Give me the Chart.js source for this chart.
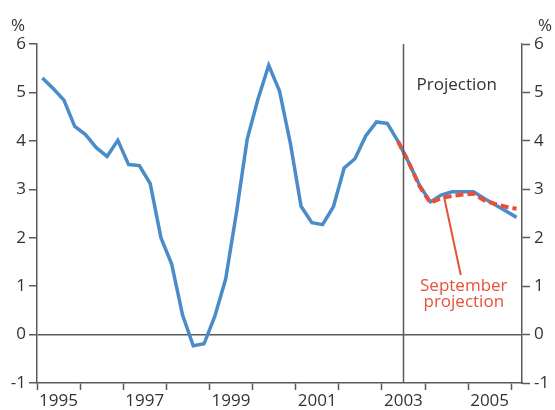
<!DOCTYPE html>
<html>
<head>
<meta charset="utf-8">
<script src="https://cdn.jsdelivr.net/npm/chart.js@4.4.1/dist/chart.umd.min.js"></script>
<style>
  html, body { margin: 0; padding: 0; background: #fff; }
  #wrap { width: 555px; height: 410px; }
</style>
</head>
<body>
<div id="wrap"><canvas id="chart" width="555" height="410"></canvas></div>
<script>
// quarterly observations, 1995 Q1 .. 2006 Q1
var quarters = [
  '1995Q1','1995Q2','1995Q3','1995Q4',
  '1996Q1','1996Q2','1996Q3','1996Q4',
  '1997Q1','1997Q2','1997Q3','1997Q4',
  '1998Q1','1998Q2','1998Q3','1998Q4',
  '1999Q1','1999Q2','1999Q3','1999Q4',
  '2000Q1','2000Q2','2000Q3','2000Q4',
  '2001Q1','2001Q2','2001Q3','2001Q4',
  '2002Q1','2002Q2','2002Q3','2002Q4',
  '2003Q1','2003Q2','2003Q3','2003Q4',
  '2004Q1','2004Q2','2004Q3','2004Q4',
  '2005Q1','2005Q2','2005Q3','2005Q4',
  '2006Q1'
];
var current = [
  5.30, 5.08, 4.84, 4.30, 4.13, 3.86, 3.68, 4.01,
  3.51, 3.49, 3.12, 2.00, 1.45, 0.41, -0.23, -0.19,
  0.38, 1.14, 2.51, 4.03, 4.86, 5.56, 5.03, 3.96,
  2.65, 2.31, 2.27, 2.64, 3.44, 3.63, 4.10, 4.39,
  4.36, 3.99, 3.55, 3.08, 2.74, 2.88, 2.95, 2.95,
  2.95, 2.81, 2.68, 2.55, 2.42
];
// September projection, from 2003Q2
var septStart = '2003Q2';
var september = [3.99, 3.55, 3.06, 2.72, 2.82, 2.86, 2.89, 2.91, 2.77, 2.70, 2.64, 2.60];

var yearTicks = [1995,1996,1997,1998,1999,2000,2001,2002,2003,2004,2005,2006];
var yearLabels = [1995,1997,1999,2001,2003,2005];
var yTicks = [-1,0,1,2,3,4,5,6];
var projectionStart = 2003.5;
// pointer from the dashed line to its label: [x, y] in data units
var pointerFrom = [2004.44, 2.85];
var pointerTo = [2004.83, 1.23];

var BLUE = '#4a8cc9';
var RED = '#e8503a';
var AXIS = '#5a5a5a';
var TEXT = '#333333';
var FONT = '"Open Sans", "Noto Sans", sans-serif';

function qToX(q) {
  var yr = parseInt(q.slice(0, 4), 10);
  var n = parseInt(q.slice(5), 10);
  return yr + (n - 0.5) / 4;
}

var currentPts = quarters.map(function (q, i) { return { x: qToX(q), y: current[i] }; });
var s0 = quarters.indexOf(septStart);
var septPts = september.map(function (v, i) { return { x: qToX(quarters[s0 + i]), y: v }; });

var extras = {
  id: 'extras',
  afterDatasetsDraw: function (chart) {
    var ctx = chart.ctx, xs = chart.scales.x, ys = chart.scales.y, a = chart.chartArea;
    ctx.save();
    // projection divider
    var px = Math.round(xs.getPixelForValue(projectionStart)) + 0.5;
    ctx.strokeStyle = AXIS;
    ctx.lineWidth = 1.5;
    ctx.beginPath();
    ctx.moveTo(px, a.top);
    ctx.lineTo(px, a.bottom);
    ctx.stroke();
    // pointer line
    ctx.strokeStyle = RED;
    ctx.lineWidth = 2;
    ctx.beginPath();
    ctx.moveTo(xs.getPixelForValue(pointerFrom[0]), ys.getPixelForValue(pointerFrom[1]));
    ctx.lineTo(xs.getPixelForValue(pointerTo[0]), ys.getPixelForValue(pointerTo[1]));
    ctx.stroke();
    // texts
    ctx.font = '17px ' + FONT;
    ctx.textBaseline = 'alphabetic';
    ctx.fillStyle = TEXT;
    ctx.textAlign = 'left';
    ctx.fillText('Projection', px + 13, 90);
    ctx.textAlign = 'center';
    ctx.fillText('%', 18, 31);
    ctx.fillText('%', 545, 31);
    ctx.fillStyle = RED;
    var lx = xs.getPixelForValue(pointerTo[0]) + 3;
    ctx.fillText('September', lx, 291);
    ctx.fillText('projection', lx, 307);
    ctx.restore();
  }
};

var tickFont = { family: FONT, size: 17 };

new Chart(document.getElementById('chart'), {
  type: 'line',
  data: {
    datasets: [
      {
        label: 'September projection',
        data: septPts,
        borderColor: RED,
        borderWidth: 4,
        borderDash: [8, 4],
        pointRadius: 0,
        fill: false,
        tension: 0
      },
      {
        label: 'Current',
        data: currentPts,
        borderColor: BLUE,
        borderWidth: 3.5,
        pointRadius: 0,
        fill: false,
        tension: 0
      }
    ]
  },
  options: {
    responsive: false,
    animation: false,
    layout: { padding: { top: 44, bottom: 0, left: 0, right: 0 } },
    plugins: { legend: { display: false }, tooltip: { enabled: false } },
    scales: {
      x: {
        type: 'linear',
        min: 1995,
        max: 2006.25,
        afterBuildTicks: function (s) { s.ticks = yearTicks.map(function (v) { return { value: v }; }); },
        afterFit: function (s) { s.height = 27; },
        ticks: {
          autoSkip: false,
          maxRotation: 0,
          labelOffset: 21.5,
          padding: 1,
          color: TEXT,
          font: tickFont,
          callback: function (v) { return yearLabels.indexOf(v) >= 0 ? String(v) : ''; }
        },
        grid: { drawOnChartArea: false, tickLength: 7, tickColor: AXIS, tickWidth: 1.5 },
        border: { color: AXIS, width: 1.5 }
      },
      y: {
        position: 'left',
        min: -1,
        max: 6,
        afterBuildTicks: function (s) { s.ticks = yTicks.map(function (v) { return { value: v }; }); },
        afterFit: function (s) { s.width = 37; },
        ticks: { padding: 3, color: TEXT, font: tickFont },
        grid: {
          color: function (c) { return c.tick && c.tick.value === 0 ? AXIS : 'rgba(0,0,0,0)'; },
          lineWidth: 1.5,
          tickColor: AXIS,
          tickLength: 8,
          tickWidth: 1.5
        },
        border: { color: AXIS, width: 1.5 }
      },
      y2: {
        position: 'right',
        min: -1,
        max: 6,
        afterBuildTicks: function (s) { s.ticks = yTicks.map(function (v) { return { value: v }; }); },
        afterFit: function (s) { s.width = 33; },
        ticks: { padding: 4, color: TEXT, font: tickFont },
        grid: { drawOnChartArea: false, tickColor: AXIS, tickLength: 8, tickWidth: 1.5 },
        border: { color: AXIS, width: 1.5 }
      }
    }
  },
  plugins: [extras]
});
</script>
</body>
</html>
